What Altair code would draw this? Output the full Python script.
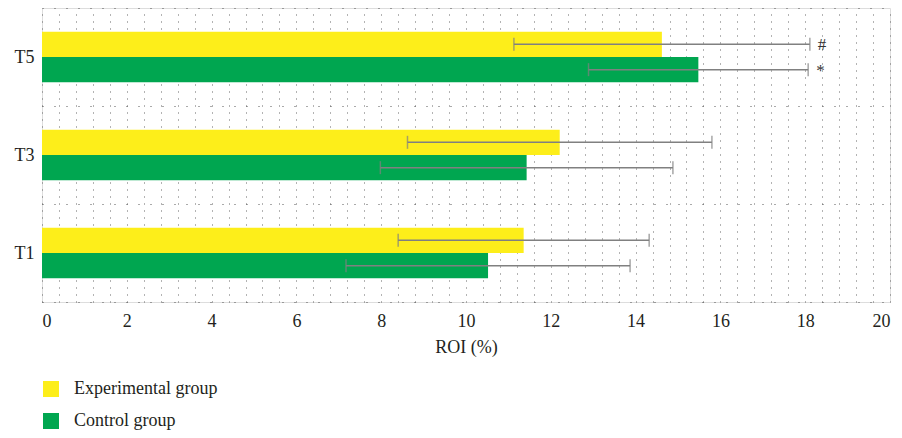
import altair as alt
import pandas as pd

times = ["T5", "T3", "T1"]
groups = ["Experimental group", "Control group"]
experimental = [14.62, 12.21, 11.36]
experimental_err = [3.49, 3.59, 2.96]
control = [15.48, 11.43, 10.52]
control_err = [2.59, 3.45, 3.35]
experimental_mark = ["#", "", ""]
control_mark = ["*", "", ""]

rows = []
for i, t in enumerate(times):
    rows.append({"time": t, "group": groups[0], "value": experimental[i],
                 "lo": experimental[i] - experimental_err[i],
                 "hi": experimental[i] + experimental_err[i],
                 "mark": experimental_mark[i]})
    rows.append({"time": t, "group": groups[1], "value": control[i],
                 "lo": control[i] - control_err[i],
                 "hi": control[i] + control_err[i],
                 "mark": control_mark[i]})
df = pd.DataFrame(rows)

FONT = "Liberation Serif"
TXT = "#231f20"
grid_vals = [round(i * 0.4, 1) for i in range(51)]

x_scale = alt.Scale(domain=[0, 20], nice=False)
y_enc = alt.Y("time:N", sort=times, title=None,
              scale=alt.Scale(paddingInner=0, paddingOuter=0),
              axis=alt.Axis(labelFont=FONT, labelFontSize=18, labelColor=TXT,
                            labelPadding=8, ticks=False, domain=False,
                            grid=True, tickBand="extent", gridDash=[1, 11],
                            gridColor="#555555", gridWidth=1))
yoff = alt.YOffset("group:N", sort=groups,
                   scale=alt.Scale(paddingInner=0, paddingOuter=0.933))

base = alt.Chart(df)

bars = base.mark_bar().encode(
    x=alt.X("value:Q", scale=x_scale, title="ROI (%)",
            axis=alt.Axis(values=grid_vals, tickCount=80, labelOverlap=False, labelBound=False,
                          labelExpr="abs(datum.value/2 - round(datum.value/2)) < 0.001 ? format(datum.value, 'd') : ''",
                          labelFont=FONT, labelFontSize=18, labelColor=TXT,
                          labelPadding=10, ticks=False, domain=False,
                          grid=True, gridDash=[1, 6], gridColor="#666666", gridWidth=1,
                          titleFont=FONT, titleFontSize=18, titleFontWeight="normal",
                          titleColor=TXT, titlePadding=8)),
    y=y_enc,
    yOffset=yoff,
    color=alt.Color("group:N", sort=groups,
                    scale=alt.Scale(domain=groups, range=["#FDEE1A", "#00A650"]),
                    legend=alt.Legend(title=None, orient="none", legendX=0, legendY=372,
                                      symbolType="square", symbolSize=256,
                                      symbolStrokeWidth=0, labelFont=FONT,
                                      labelFontSize=18, labelColor=TXT,
                                      labelOffset=14, rowPadding=14)),
)

rules = base.mark_rule(color="#808080", strokeWidth=1.5).encode(
    x="lo:Q", x2="hi:Q", y=alt.Y("time:N", sort=times), yOffset=yoff)

caps_lo = base.mark_tick(color="#808080", thickness=1.5, size=13, orient="vertical").encode(
    x="lo:Q", y=alt.Y("time:N", sort=times), yOffset=yoff)
caps_hi = base.mark_tick(color="#808080", thickness=1.5, size=13, orient="vertical").encode(
    x="hi:Q", y=alt.Y("time:N", sort=times), yOffset=yoff)

labels = base.mark_text(align="left", baseline="middle", dx=8, dy=1,
                        font=FONT, fontSize=17, color="#333333").encode(
    x="hi:Q", y=alt.Y("time:N", sort=times), yOffset=yoff, text="mark:N")

chart = alt.layer(bars, rules, caps_lo, caps_hi, labels).properties(
    width=848, height=294,
    autosize=alt.AutoSizeParams(type="none"),
    padding={"left": 34, "top": 0, "right": 4, "bottom": 128},
).configure_view(stroke="#4d4d4d", strokeWidth=1.5).configure(background="white")

chart.save("out.html", embed_options={"renderer": "svg", "actions": False})
